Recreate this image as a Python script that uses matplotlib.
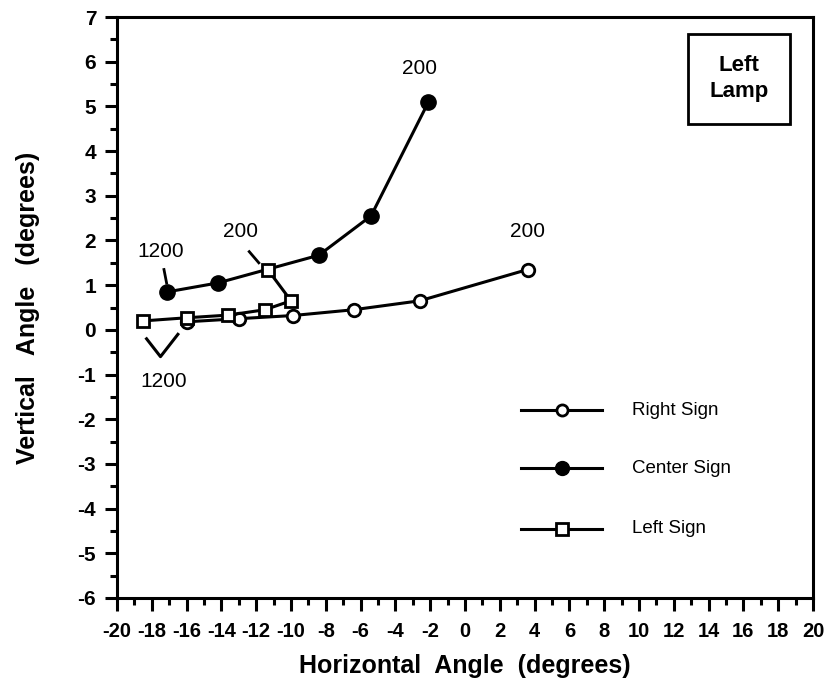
import numpy as np
import matplotlib
matplotlib.use('Agg')
from matplotlib import pyplot as plt
from matplotlib.ticker import MultipleLocator

plt.rcParams['font.family'] = ['Liberation Sans', 'DejaVu Sans']
plt.rcParams['axes.unicode_minus'] = False

# data
right_x = [-16.0, -13.0, -9.9, -6.4, -2.6, 3.6]
right_y = [0.18, 0.25, 0.32, 0.45, 0.65, 1.35]

center_x = [-17.1, -14.2, -8.4, -5.4, -2.1]
center_y = [0.85, 1.05, 1.67, 2.55, 5.1]

left_x = [-18.5, -16.0, -13.6, -11.5, -10.0, -11.3]
left_y = [0.2, 0.27, 0.33, 0.45, 0.65, 1.33]

series_names = ['Right Sign', 'Center Sign', 'Left Sign']

fig = plt.figure(figsize=(8.25, 6.95), dpi=100)
ax = fig.add_axes([0.1418, 0.1396, 0.8437, 0.8359])

lw = 2.2
ax.plot(right_x, right_y, '-o', color='black', lw=lw, ms=9, mfc='white', mew=2, zorder=3)
ax.plot(center_x, center_y, '-o', color='black', lw=lw, ms=11, mfc='black', zorder=3)
ax.plot(left_x, left_y, '-s', color='black', lw=lw, ms=9, mfc='white', mew=2, zorder=4)

ax.set_xlim(-20, 20)
ax.set_ylim(-6, 7)
ax.xaxis.set_major_locator(MultipleLocator(2))
ax.xaxis.set_minor_locator(MultipleLocator(1))
ax.yaxis.set_major_locator(MultipleLocator(1))
ax.yaxis.set_minor_locator(MultipleLocator(0.5))
ax.tick_params(which='major', direction='out', length=9, width=2.2, labelsize=15, pad=6)
ax.tick_params(which='minor', direction='out', length=5, width=2.2)
ax.tick_params(axis='x', which='major', labelsize=14.5, pad=8)
for lab in ax.get_xticklabels() + ax.get_yticklabels():
    lab.set_fontweight('bold')
for sp in ax.spines.values():
    sp.set_linewidth(2.2)

ax.set_xlabel('Horizontal  Angle  (degrees)', fontsize=18, fontweight='bold', labelpad=10)
ax.set_ylabel('Vertical   Angle   (degrees)', fontsize=18, fontweight='bold', labelpad=27)

# point labels with leader ticks
ax.text(-17.5, 1.75, '1200', fontsize=15, ha='center', va='center')
ax.plot([-17.3, -17.15], [1.35, 1.05], color='black', lw=2)
ax.text(-2.6, 5.85, '200', fontsize=15, ha='center', va='center')
ax.text(-12.9, 2.2, '200', fontsize=15, ha='center', va='center')
ax.plot([-12.4, -11.85], [1.75, 1.5], color='black', lw=2)
ax.text(3.6, 2.2, '200', fontsize=15, ha='center', va='center')
ax.text(-17.3, -1.15, '1200', fontsize=15, ha='center', va='center')
ax.plot([-18.3, -17.5, -16.5], [-0.2, -0.6, -0.1], color='black', lw=2.2)

# legend drawn by hand
leg_y = [-1.8, -3.1, -4.45]
leg_styles = [dict(marker='o', ms=8, mfc='white', mew=2),
              dict(marker='o', ms=10, mfc='black'),
              dict(marker='s', ms=8, mfc='white', mew=2)]
for yy, name, st in zip(leg_y, series_names, leg_styles):
    ax.plot([3.2, 7.9], [yy, yy], color='black', lw=2.2)
    ax.plot([5.6], [yy], color='black', ls='none', **st)
    ax.text(9.6, yy, name, fontsize=13.5, ha='left', va='center')

ax.text(15.75, 5.62, 'Left\nLamp', fontsize=16, fontweight='bold', ha='center', va='center',
        linespacing=1.35,
        bbox=dict(boxstyle='square,pad=0.95', fc='white', ec='black', lw=2))

fig.savefig('out.png', dpi=100)
